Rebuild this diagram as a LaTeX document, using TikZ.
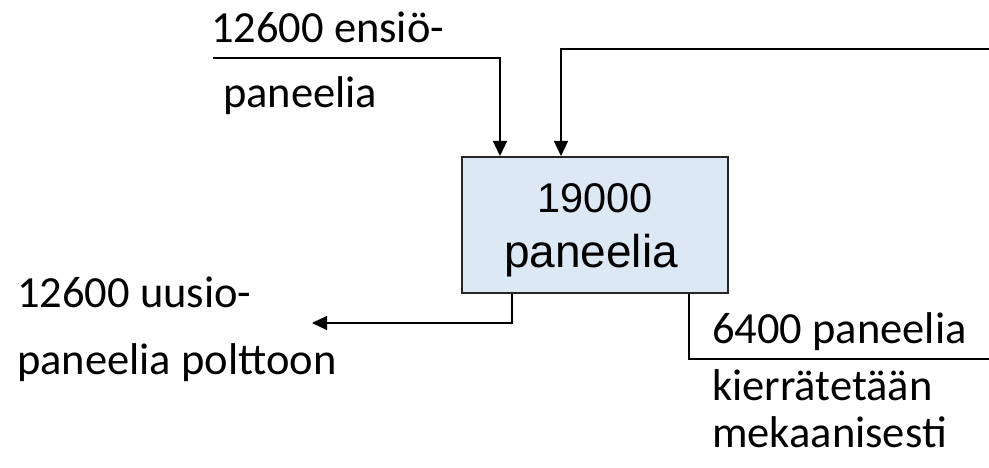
\documentclass[tikz,border=0pt]{standalone}
\usepackage{fontspec}
\setmainfont{Carlito}
\newfontfamily\boxfont{Liberation Sans}
\usetikzlibrary{arrows.meta}
\definecolor{stockfill}{RGB}{221,232,245}
\begin{document}
\begin{tikzpicture}[x=1pt,y=-1pt,
  lbl/.style={anchor=base west, inner sep=0pt, font=\fontsize{44.5}{44.5}\selectfont},
  boxtxt/.style={anchor=base, inner sep=0pt, font=\boxfont\fontsize{41.5}{41.5}\selectfont},
  boxtxtwide/.style={anchor=base, inner sep=0pt, font=\boxfont\fontsize{46}{46}\selectfont},
  flow/.style={line width=1.2pt, -{Triangle[length=15pt,width=14pt]}},
  link/.style={line width=1.2pt},
  stockbox/.style={draw=black!85, line width=2pt, fill=stockfill,
    minimum width=266pt, minimum height=136pt, inner sep=0pt}]
\useasboundingbox (0,0) rectangle (989,468);

% stock box
\node[stockbox] (stock) at (595,225) {};
\node[boxtxt] (stocknum) at (595,213) {19000};
\node[boxtxtwide] (stockunit) at (591,268) {paneelia};

% inflow of new panels
\coordinate (newsrc) at (213,58);
\coordinate (newturn) at (500,58);
\draw[flow] (newsrc) -- (newturn) -- (newturn |- stock.north);
\node[lbl] (newa) at (211,43) {12600 ensiö-};
\node[lbl] (newb) at (223,108) {paneelia};

% returning flow from the right
\coordinate (retsrc) at (989,49);
\coordinate (retturn) at (561,49);
\draw[flow] (retsrc) -- (retturn) -- (retturn |- stock.north);

% outflow to incineration
\coordinate (burnturn) at (512,323);
\coordinate (burnend) at (312,323);
\draw[flow] (stock.south -| burnturn) -- (burnturn) -- (burnend);
\node[lbl] (burna) at (17,307) {12600 uusio-};
\node[lbl] (burnb) at (17,374) {paneelia polttoon};

% outflow to mechanical recycling
\coordinate (recturn) at (689,359);
\coordinate (recend) at (989,359);
\draw[link] (stock.south -| recturn) -- (recturn) -- (recend);
\node[lbl] (reca) at (712,343) {6400 paneelia};
\node[lbl] (recb) at (712,400) {kierrätetään};
\node[lbl] (recc) at (712,447) {mekaanisesti};
\end{tikzpicture}
\end{document}
